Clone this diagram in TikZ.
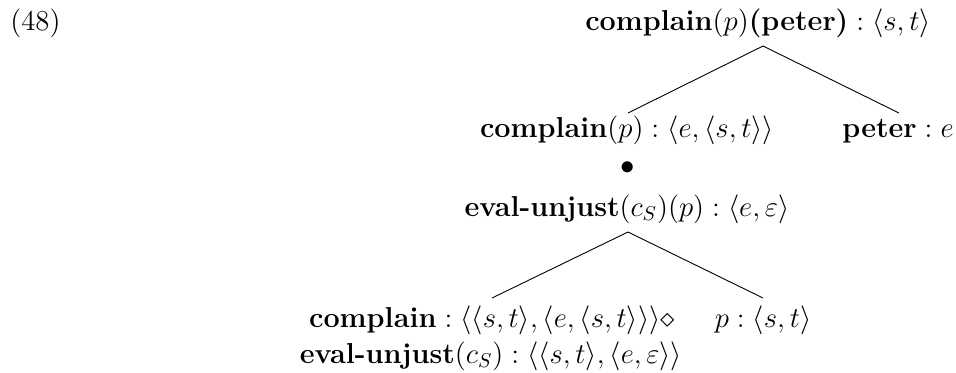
\documentclass[tikz,border=0pt]{standalone}
\begin{document}
\begin{tikzpicture}[x=0.5pt,y=-0.5pt,
  lab/.style={anchor=base, inner sep=0pt, font=\fontsize{14.4}{18}\selectfont},
  edge/.style={line width=0.45pt}]
\useasboundingbox (0,0) rectangle (956,372);
\node[lab, anchor=base west] (ex) at (10,30) {(48)};
\node[lab] (root) at (758,30) {$\textbf{complain}(p)\textbf{(peter)}:\langle s,t\rangle$};
\node[lab] (cp) at (627,137) {$\textbf{complain}(p):\langle e,\langle s,t\rangle\rangle$};
\node[lab] (peter) at (898,137) {$\textbf{peter}:e$};
\node[lab, anchor=center] (dot) at (628,168) {$\bullet$};
\node[lab] (eu) at (627,216) {$\textbf{eval-unjust}(c_S)(p):\langle e,\varepsilon\rangle$};
\node[lab] (cmp) at (492,327) {$\textbf{complain}:\langle\langle s,t\rangle,\langle e,\langle s,t\rangle\rangle\rangle{\diamond}$};
\node[lab] (eu2) at (491,363) {$\textbf{eval-unjust}(c_S):\langle\langle s,t\rangle,\langle e,\varepsilon\rangle\rangle$};
\node[lab] (pp) at (763,327) {$p:\langle s,t\rangle$};
\coordinate (roottop) at (763,46);
\coordinate (cptop) at (628,113);
\coordinate (petertop) at (899,113);
\coordinate (eubot) at (628,232);
\coordinate (cmptop) at (492,298);
\coordinate (pptop) at (763,298);
\draw[edge] (cptop) -- (roottop) -- (petertop);
\draw[edge] (cmptop) -- (eubot) -- (pptop);
\end{tikzpicture}
\end{document}
